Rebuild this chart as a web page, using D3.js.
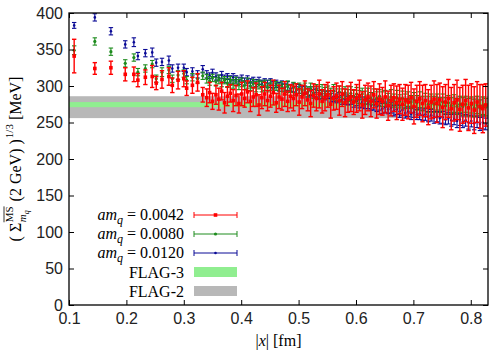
<!DOCTYPE html>
<html>
<head>
<meta charset="UTF-8">
<script src="https://d3js.org/d3.v7.min.js"></script>
<style>
  body { margin: 0; background: #fff; }
  svg { display: block; }
</style>
</head>
<body>
<div id="chart"></div>
<script>
const width = 493, height = 356;
const marginTop = 13, marginRight = 5, marginBottom = 51, marginLeft = 69;

const xTicks = [0.1, 0.2, 0.3, 0.4, 0.5, 0.6, 0.7, 0.8];
const yTicks = [0, 50, 100, 150, 200, 250, 300, 350, 400];

// |x| in fm, shared by the three masses
const distX = [
  0.109, 0.145, 0.173, 0.198, 0.213, 0.220, 0.233, 0.245, 0.252, 0.262,
  0.274, 0.280, 0.290, 0.300, 0.305, 0.315, 0.324, 0.333,
  0.340, 0.345, 0.350, 0.356, 0.361, 0.366, 0.371, 0.376, 0.381, 0.386,
  0.391, 0.396, 0.401, 0.406, 0.411, 0.416, 0.421, 0.426, 0.431, 0.436,
  0.441, 0.446, 0.451, 0.456, 0.461, 0.466, 0.471, 0.476, 0.481, 0.486,
  0.491, 0.496, 0.501, 0.506, 0.511, 0.516, 0.521, 0.526, 0.531, 0.536,
  0.541, 0.546, 0.551, 0.556, 0.561, 0.566, 0.571, 0.576, 0.581, 0.586,
  0.591, 0.596, 0.601, 0.606, 0.611, 0.616, 0.621, 0.626, 0.631, 0.636,
  0.641, 0.646, 0.651, 0.656, 0.661, 0.666, 0.671, 0.676, 0.681, 0.686,
  0.691, 0.696, 0.701, 0.706, 0.711, 0.716, 0.721, 0.726, 0.731, 0.736,
  0.741, 0.746, 0.751, 0.756, 0.761, 0.766, 0.771, 0.776, 0.781, 0.786,
  0.791, 0.796, 0.801, 0.806, 0.811, 0.816, 0.821, 0.826
];

// am_q = 0.0120
const sigma0120 = [
  383, 394, 375, 357, 360, 341, 345, 346, 332, 333,
  335, 324, 325, 325, 319, 320, 316, 323,
  316, 314, 318, 313, 311, 315, 310, 313, 309, 312,
  309, 307, 311, 306, 309, 305, 308, 304, 307, 303,
  305, 303, 304, 301, 303, 299, 302, 298, 300, 297,
  298, 294, 296, 293, 295, 291, 293, 290, 291, 288,
  289, 287, 288, 284, 286, 283, 285, 281, 282, 280,
  281, 278, 279, 276, 278, 275, 276, 273, 274, 272,
  273, 269, 271, 268, 270, 266, 268, 265, 267, 263,
  265, 262, 264, 261, 262, 260, 261, 258, 260, 257,
  258, 256, 257, 254, 256, 253, 255, 252, 254, 251,
  253, 250, 252, 249, 251, 248, 250, 248
];
const err0120 = [
  4, 5, 5, 5, 6, 5, 5, 6, 5, 5,
  6, 5, 5, 5, 5, 5, 5, 5,
  5, 4, 5, 5, 4, 5, 5, 4, 5, 5,
  5, 5, 4, 5, 5, 5, 4, 5, 5, 5,
  5, 5, 6, 5, 5, 6, 5, 5, 6, 5,
  6, 5, 6, 6, 5, 6, 6, 5, 6, 6,
  6, 6, 5, 6, 7, 6, 6, 6, 7, 6,
  6, 7, 6, 6, 7, 6, 7, 6, 7, 7,
  6, 7, 7, 6, 7, 7, 7, 8, 7, 7,
  7, 8, 7, 7, 8, 7, 8, 7, 8, 8,
  7, 8, 8, 7, 8, 8, 8, 9, 8, 8,
  8, 9, 8, 9, 8, 9, 9, 8
];

// am_q = 0.0080
const sigma0080 = [
  349, 361, 347, 331, 339, 319, 324, 330, 310, 319,
  322, 310, 315, 317, 308, 312, 310, 314,
  310, 307, 311, 306, 309, 305, 308, 304, 307, 303,
  306, 302, 305, 301, 304, 300, 303, 299, 302, 299,
  301, 298, 301, 297, 300, 296, 299, 295, 299, 294,
  298, 295, 297, 294, 296, 292, 296, 291, 295, 291,
  294, 290, 293, 289, 293, 288, 292, 287, 291, 287,
  290, 286, 289, 285, 289, 284, 288, 283, 287, 283,
  286, 282, 285, 281, 285, 280, 284, 279, 283, 279,
  282, 278, 281, 277, 281, 276, 280, 275, 279, 275,
  278, 274, 278, 273, 277, 273, 276, 272, 275, 272,
  275, 271, 274, 270, 274, 270, 273, 271
];
const err0080 = [
  6, 5, 5, 5, 5, 5, 5, 5, 5, 6,
  5, 5, 6, 5, 5, 5, 6, 5,
  6, 6, 5, 6, 6, 6, 5, 6, 6, 6,
  6, 7, 6, 6, 7, 6, 6, 7, 6, 7,
  7, 6, 7, 7, 6, 7, 7, 7, 8, 7,
  7, 8, 7, 7, 8, 7, 8, 8, 7, 8,
  8, 8, 7, 8, 9, 8, 8, 9, 8, 8,
  9, 8, 9, 9, 8, 9, 9, 8, 9, 9,
  9, 10, 9, 9, 10, 9, 10, 9, 10, 10,
  10, 9, 10, 10, 11, 10, 10, 11, 10, 11,
  11, 10, 11, 11, 10, 11, 12, 11, 11, 12,
  11, 12, 11, 12, 12, 11, 12, 12
];

// am_q = 0.0042
const sigma0042 = [
  341, 324, 325, 316, 316, 308, 312, 313, 304, 309,
  313, 301, 308, 310, 297, 301, 305, 288,
  284, 291, 279, 288, 282, 293, 277, 286, 290, 280,
  287, 276, 289, 283, 292, 279, 285, 288, 274, 284,
  289, 280, 286, 291, 277, 285, 282, 289, 279, 286,
  283, 288, 278, 285, 290, 281, 276, 287, 283, 289,
  279, 284, 288, 275, 283, 286, 280, 289, 277, 282,
  285, 278, 283, 287, 274, 281, 285, 279, 288, 276,
  282, 279, 285, 273, 280, 284, 277, 282, 275, 281,
  278, 284, 272, 279, 283, 276, 280, 271, 278, 282,
  276, 281, 271, 278, 283, 269, 277, 281, 268, 275,
  280, 270, 276, 267, 278, 272, 269, 274
];
const err0042 = [
  23, 8, 9, 9, 10, 9, 10, 15, 9, 12,
  12, 10, 12, 11, 10, 11, 12, 10,
  12, 14, 11, 13, 15, 12, 14, 13, 12, 15,
  14, 13, 16, 12, 15, 14, 13, 16, 14, 15,
  16, 14, 15, 17, 13, 16, 15, 17, 14, 16,
  17, 15, 18, 16, 17, 15, 18, 16, 17, 19,
  16, 18, 17, 19, 16, 18, 20, 17, 19, 18,
  20, 17, 19, 21, 18, 20, 19, 21, 18, 20,
  21, 19, 22, 20, 21, 19, 23, 20, 22, 21,
  23, 21, 24, 22, 23, 25, 22, 24, 23, 25,
  26, 23, 28, 24, 26, 29, 25, 27, 30, 26,
  29, 31, 27, 32, 28, 30, 33, 29
];

// FLAG bands [low, high] in MeV
const flag3 = [271, 278];
const flag2 = [256, 286];

const x = d3.scaleLinear().domain([0.1, 0.83]).range([marginLeft, width - marginRight]);
const y = d3.scaleLinear().domain([0, 400]).range([height - marginBottom, marginTop]);

const svg = d3.select("#chart").append("svg")
  .attr("width", width).attr("height", height);

const serif = "'Liberation Serif', 'Times New Roman', serif";
const sans = "'Liberation Sans', Arial, sans-serif";

// bands
const bands = [
  { lab: "FLAG-2", r: flag2, color: "#b8b8b8" },
  { lab: "FLAG-3", r: flag3, color: "#90ee90" }
];
svg.append("g").selectAll("rect").data(bands).join("rect")
  .attr("x", x(0.1)).attr("width", x(0.83) - x(0.1))
  .attr("y", d => y(d.r[1])).attr("height", d => y(d.r[0]) - y(d.r[1]))
  .attr("fill", d => d.color);

const series = [
  { lab: "0.0120", vals: sigma0120, errs: err0120, color: "#0a0a96", mk: "dot" },
  { lab: "0.0080", vals: sigma0080, errs: err0080, color: "#1e8c1e", mk: "circle" },
  { lab: "0.0042", vals: sigma0042, errs: err0042, color: "#ff0000", mk: "square" }
];

const plot = svg.append("g");
series.forEach(s => {
  const sw = s.mk === "square" ? 1.4 : 1.1;
  const g = plot.append("g").attr("stroke", s.color).attr("fill", s.color).attr("stroke-width", sw);
  const pts = distX.map((d, i) => ({ x: d, v: s.vals[i], e: s.errs[i] }));
  const pg = g.selectAll("g").data(pts).join("g");
  pg.append("line")
    .attr("x1", d => x(d.x)).attr("x2", d => x(d.x))
    .attr("y1", d => y(d.v - d.e)).attr("y2", d => y(d.v + d.e));
  [-1, 1].forEach(sg => {
    pg.append("line")
      .attr("x1", d => x(d.x) - 2.2).attr("x2", d => x(d.x) + 2.2)
      .attr("y1", d => y(d.v + sg * d.e)).attr("y2", d => y(d.v + sg * d.e));
  });
  drawMarker(pg, s.mk, d => x(d.x), d => y(d.v));
});

function drawMarker(sel, mk, fx, fy) {
  if (mk === "square") {
    sel.append("rect").attr("stroke", "none")
      .attr("x", d => fx(d) - 1.8).attr("y", d => fy(d) - 1.8)
      .attr("width", 3.6).attr("height", 3.6);
  } else {
    sel.append("circle").attr("stroke", "none")
      .attr("cx", fx).attr("cy", fy).attr("r", mk === "circle" ? 1.6 : 1.3);
  }
}

// axes (ticks inward, mirrored)
const axB = svg.append("g").attr("transform", `translate(0,${height - marginBottom})`)
  .call(d3.axisBottom(x).tickValues(xTicks).tickSizeInner(-5).tickSizeOuter(0).tickPadding(8).tickFormat(d3.format(".1f")));
const axT = svg.append("g").attr("transform", `translate(0,${marginTop})`)
  .call(d3.axisTop(x).tickValues(xTicks).tickSizeInner(-5).tickSizeOuter(0).tickFormat(""));
const axL = svg.append("g").attr("transform", `translate(${marginLeft},0)`)
  .call(d3.axisLeft(y).tickValues(yTicks).tickSizeInner(-5).tickSizeOuter(0).tickPadding(6));
const axR = svg.append("g").attr("transform", `translate(${width - marginRight},0)`)
  .call(d3.axisRight(y).tickValues(yTicks).tickSizeInner(-5).tickSizeOuter(0).tickFormat(""));
[axB, axT, axL, axR].forEach(a => {
  a.select(".domain").remove();
  a.selectAll("line").attr("stroke", "#000").attr("stroke-width", 1);
  a.selectAll("text").attr("font-family", sans).attr("font-size", 16).attr("fill", "#222");
});

svg.append("rect")
  .attr("x", marginLeft).attr("y", marginTop)
  .attr("width", width - marginRight - marginLeft).attr("height", height - marginBottom - marginTop)
  .attr("fill", "none").attr("stroke", "#000").attr("stroke-width", 1.3);

// x label
const xl = svg.append("text").attr("x", (marginLeft + width - marginRight) / 2).attr("y", 346)
  .attr("text-anchor", "middle").attr("font-family", serif).attr("font-size", 16);
xl.append("tspan").text("|");
xl.append("tspan").attr("font-style", "italic").text("x");
xl.append("tspan").text("|\u00a0[fm]");

// y label, laid out piece by piece then centred
const ylOuter = svg.append("g").attr("transform", `translate(21,${(marginTop + height - marginBottom) / 2}) rotate(-90)`)
  .attr("font-family", serif);
const yl = ylOuter.append("g");
let cx = 0;
function piece(t, size, dy, italic) {
  const el = yl.append("text").attr("x", cx).attr("y", dy).attr("font-size", size).text(t);
  if (italic) el.attr("font-style", "italic");
  return el.node().getComputedTextLength();
}
cx += piece("(\u00a0Σ", 16, 0);
const stackX = cx + 0.5;
cx = stackX;
const wMS = piece("MS", 11, -8);
yl.append("line").attr("x1", stackX).attr("x2", stackX + wMS).attr("y1", -17).attr("y2", -17)
  .attr("stroke", "#000").attr("stroke-width", 0.8);
cx += piece("m", 11, 5, true);
cx += piece("q", 8, 8, true);
cx = Math.max(cx, stackX + wMS) + 1;
cx += piece("\u00a0(2\u00a0GeV)\u00a0)", 16, 0);
cx += 1;
cx += piece("1/3", 11, -8);
cx += piece("\u00a0[MeV]", 16, 0);
yl.attr("transform", `translate(${-cx / 2},0)`);

// legend
const legRows = [
  ...series.slice().reverse().map(s => ({ kind: "err", s })),
  { kind: "band", b: bands[1] },
  { kind: "band", b: bands[0] }
];
const legY = [215, 234, 253, 272, 291];
const lx0 = 194, lx1 = 237, textEnd = 184;
legRows.forEach((r, i) => {
  const cy = legY[i];
  if (r.kind === "err") {
    const t = svg.append("text").attr("x", textEnd).attr("y", cy + 5).attr("text-anchor", "end")
      .attr("font-family", serif).attr("font-size", 16);
    t.append("tspan").attr("font-style", "italic").text("am");
    t.append("tspan").attr("font-style", "italic").attr("font-size", 12).attr("dy", 4).text("q");
    t.append("tspan").attr("dy", -4).text("\u00a0=\u00a0" + r.s.lab);
    const g = svg.append("g").attr("stroke", r.s.color).attr("fill", r.s.color).attr("stroke-width", 1);
    g.append("line").attr("x1", lx0).attr("x2", lx1).attr("y1", cy).attr("y2", cy);
    g.append("line").attr("x1", lx0).attr("x2", lx0).attr("y1", cy - 3).attr("y2", cy + 3);
    g.append("line").attr("x1", lx1).attr("x2", lx1).attr("y1", cy - 3).attr("y2", cy + 3);
    drawMarker(g.append("g").datum({}), r.s.mk, () => (lx0 + lx1) / 2, () => cy);
  } else {
    svg.append("text").attr("x", textEnd).attr("y", cy + 6).attr("text-anchor", "end")
      .attr("font-family", serif).attr("font-size", 16).text(r.b.lab);
    svg.append("rect").attr("x", lx0).attr("y", cy - 5).attr("width", lx1 - lx0).attr("height", 10)
      .attr("fill", r.b.color);
  }
});
</script>
</body>
</html>
